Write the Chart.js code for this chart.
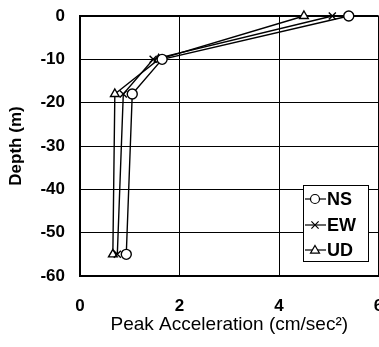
<!DOCTYPE html>
<html>
<head>
<meta charset="utf-8">
<script src="https://cdn.jsdelivr.net/npm/chart.js@4.4.1/dist/chart.umd.min.js"></script>
<style>
  html, body { margin: 0; padding: 0; background: #fff; overflow: hidden; }
  #wrap { width: 379px; height: 347px; overflow: hidden; }
</style>
</head>
<body>
<div id="wrap"><canvas id="chart" width="385" height="347"></canvas></div>
<script>
// values
const depths = [0, -10, -18, -55];
const nsValues = [5.4, 1.65, 1.05, 0.93];
const ewValues = [5.07, 1.47, 0.87, 0.75];
const udValues = [4.5, 1.58, 0.7, 0.66];
const seriesNames = ['NS', 'EW', 'UD'];
const markerStyles = ['circle', 'crossRot', 'triangle'];
const xTicks = [0, 2, 4, 6];
const yTicks = [0, -10, -20, -30, -40, -50, -60];

const FONT = '"Liberation Sans", Arial, Helvetica, sans-serif';

function toPoints(values) {
  return values.map((v, i) => ({ x: v, y: depths[i] }));
}

function makeDataset(name, values, style) {
  return {
    label: name,
    data: toPoints(values),
    showLine: true,
    clip: false,
    borderColor: '#000',
    borderWidth: 1.4,
    backgroundColor: '#fff',
    pointStyle: style,
    pointRadius: 5,
    pointBorderWidth: 1.4,
    pointBorderColor: '#000',
    pointBackgroundColor: '#fff',
    tension: 0
  };
}

// draw a small marker for the legend
function drawMarker(ctx, style, x, y, r) {
  ctx.beginPath();
  if (style === 'circle') {
    ctx.arc(x, y, r, 0, Math.PI * 2);
    ctx.fill();
    ctx.stroke();
  } else if (style === 'crossRot') {
    ctx.moveTo(x - r * 0.8, y - r * 0.8);
    ctx.lineTo(x + r * 0.8, y + r * 0.8);
    ctx.moveTo(x + r * 0.8, y - r * 0.8);
    ctx.lineTo(x - r * 0.8, y + r * 0.8);
    ctx.stroke();
  } else {
    ctx.moveTo(x, y - r);
    ctx.lineTo(x + r, y + r * 0.7);
    ctx.lineTo(x - r, y + r * 0.7);
    ctx.closePath();
    ctx.fill();
    ctx.stroke();
  }
}

// legend box inside the plot, lower right
const insideLegend = {
  id: 'insideLegend',
  afterDraw(chart) {
    const ctx = chart.ctx;
    const box = { x: 303, y: 185, w: 65, h: 76 };
    const rows = [199, 225, 250];
    ctx.save();
    ctx.fillStyle = '#fff';
    ctx.strokeStyle = '#000';
    ctx.lineWidth = 1;
    ctx.fillRect(box.x, box.y, box.w, box.h);
    ctx.strokeRect(box.x + 0.5, box.y + 0.5, box.w, box.h);
    seriesNames.forEach((name, i) => {
      const y = rows[i];
      ctx.strokeStyle = '#000';
      ctx.lineWidth = 1.2;
      ctx.beginPath();
      ctx.moveTo(box.x + 2, y);
      ctx.lineTo(box.x + 23, y);
      ctx.stroke();
      ctx.fillStyle = '#fff';
      drawMarker(ctx, markerStyles[i], box.x + 12, y, 4.5);
      ctx.fillStyle = '#000';
      ctx.font = 'bold 18px ' + FONT;
      ctx.textAlign = 'left';
      ctx.textBaseline = 'middle';
      ctx.fillText(name, box.x + 24, y + 1);
    });
    ctx.restore();
  }
};

new Chart(document.getElementById('chart'), {
  type: 'scatter',
  data: {
    datasets: [
      makeDataset(seriesNames[0], nsValues, markerStyles[0]),
      makeDataset(seriesNames[1], ewValues, markerStyles[1]),
      makeDataset(seriesNames[2], udValues, markerStyles[2])
    ]
  },
  options: {
    responsive: false,
    animation: false,
    layout: { padding: { top: 16, right: 1, left: 0, bottom: 0 } },
    plugins: {
      legend: { display: false },
      tooltip: { enabled: false }
    },
    scales: {
      x: {
        type: 'linear',
        min: 0,
        max: 6,
        afterBuildTicks(scale) {
          scale.ticks = xTicks.map(v => ({ value: v }));
        },
        afterFit(scale) {
          scale.height = 71;
          scale.paddingLeft = 0;
          scale.paddingRight = 0;
        },
        grid: {
          color: '#000',
          lineWidth: ctx => (ctx.tick && ctx.tick.value === 6 ? 1.5 : 1),
          drawTicks: false
        },
        border: { color: '#000', width: 2 },
        ticks: {
          color: '#000',
          padding: 20,
          font: { family: FONT, size: 17, weight: 'bold' }
        },
        title: {
          display: true,
          text: 'Peak Acceleration (cm/sec²)',
          color: '#000',
          padding: { top: 0, bottom: 11 },
          font: { family: FONT, size: 19 }
        }
      },
      y: {
        type: 'linear',
        min: -60,
        max: 0,
        afterBuildTicks(scale) {
          scale.ticks = yTicks.map(v => ({ value: v }));
        },
        afterFit(scale) {
          scale.width = 80;
          scale.paddingTop = 0;
          scale.paddingBottom = 0;
        },
        grid: {
          color: '#000',
          lineWidth: ctx => (ctx.tick && ctx.tick.value === 0 ? 2 : 1),
          drawTicks: false
        },
        border: { color: '#000', width: 2 },
        ticks: {
          color: '#000',
          padding: 15,
          font: { family: FONT, size: 17, weight: 'bold' }
        },
        title: {
          display: true,
          text: 'Depth (m)',
          color: '#000',
          padding: { top: 6, bottom: 0 },
          font: { family: FONT, size: 17, weight: 'bold' }
        }
      }
    }
  },
  plugins: [insideLegend]
});
</script>
</body>
</html>
